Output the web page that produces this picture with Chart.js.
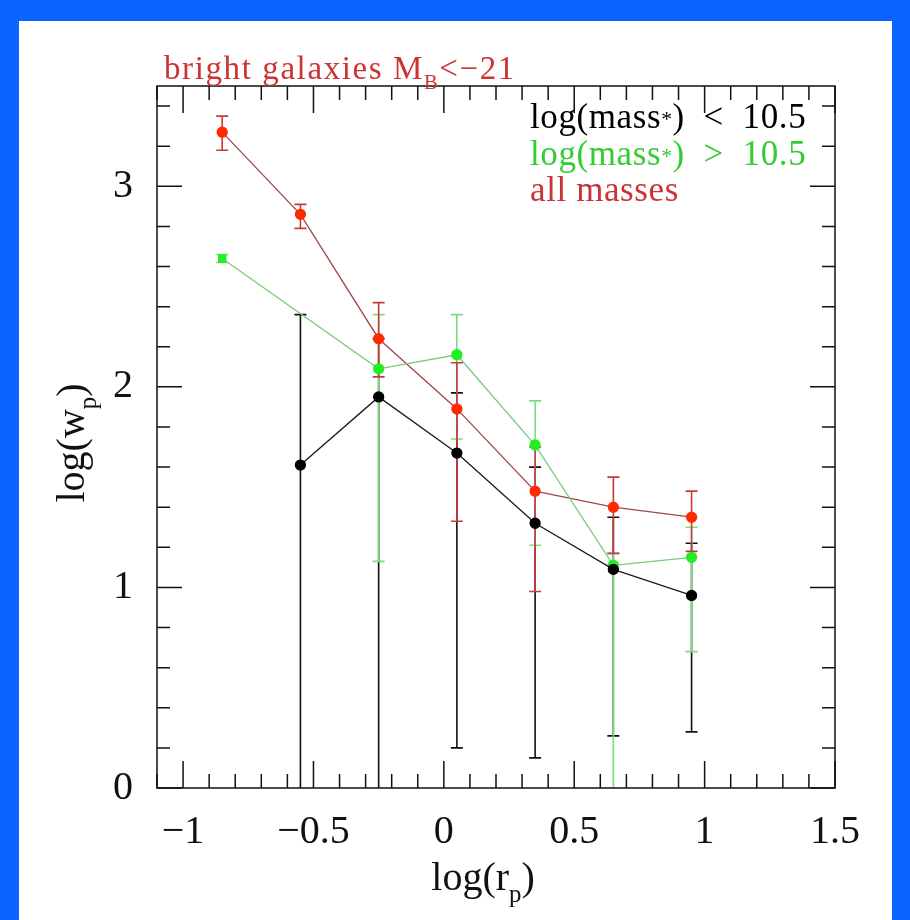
<!DOCTYPE html>
<html>
<head>
<meta charset="utf-8">
<script src="https://cdn.jsdelivr.net/npm/chart.js@4"></script>
<style>
html,body{margin:0;padding:0;background:#0a64ff;}
#wrap{position:absolute;left:0;top:0;width:910px;height:920px;}
</style>
</head>
<body>
<div id="wrap"><canvas id="c" width="910" height="920"></canvas></div>
<script>
// ---- data ----
const xs = [-0.85, -0.55, -0.25, 0.05, 0.35, 0.65, 0.95];
const lowMass   = [null, 1.61, 1.95, 1.67, 1.32, 1.09, 0.96];
const lowMassHi = [null, 2.36, 2.24, 1.97, 1.60, 1.35, 1.22];
const lowMassLo = [null, -0.5, -0.5, 0.20, 0.15, 0.26, 0.28];
const highMass   = [2.64, null, 2.09, 2.16, 1.71, 1.11, 1.15];
const highMassHi = [2.66, null, 2.36, 2.36, 1.93, 1.17, 1.30];
const highMassLo = [2.62, null, 1.13, 1.74, 1.21, -0.5, 0.68];
const allMass   = [3.27, 2.86, 2.24, 1.89, 1.48, 1.40, 1.35];
const allMassHi = [3.35, 2.91, 2.42, 2.12, 1.70, 1.55, 1.48];
const allMassLo = [3.18, 2.79, 2.05, 1.33, 0.98, 1.17, 1.18];
const xTicks = [-1, -0.5, 0, 0.5, 1, 1.5];
const yTicks = [0, 1, 2, 3];
const titleText = ["bright galaxies M", "B", "<\u221221"];
const legendLabels = ["log(mass", "*", ")  <  10.5", "log(mass", "*", ")  >  10.5", "all masses"];

const FONT = '"Liberation Serif", "DejaVu Serif", serif';

function pts(vals, lo, hi) {
  const out = [];
  vals.forEach((v, i) => { if (v !== null) out.push({x: xs[i], y: v, lo: lo[i], hi: hi[i]}); });
  return out;
}

const sets = [
  {label: 'low', data: pts(lowMass, lowMassLo, lowMassHi), borderColor: '#1a1a1a', pointBackgroundColor: '#000', errColor: '#111', pointStyle: 'circle'},
  {label: 'high', data: pts(highMass, highMassLo, highMassHi), borderColor: '#7acb7a', pointBackgroundColor: '#22ee22', errColor: '#7cdc7c', pointStyle: ['rect','circle','circle','circle','circle','circle']},
  {label: 'all', data: pts(allMass, allMassLo, allMassHi), borderColor: '#a24848', pointBackgroundColor: '#ff2a00', errColor: '#c83a3a', pointStyle: 'circle'}
];

function drawRich(ctx, segs, x, y, size, color, spacing) {
  ctx.fillStyle = color;
  ctx.textBaseline = 'alphabetic';
  ctx.textAlign = 'left';
  ctx.letterSpacing = (spacing || 0) + 'px';
  let cx = x;
  segs.forEach(s => {
    const fs = s.sub ? size * 0.62 : size;
    ctx.font = fs + 'px ' + FONT;
    ctx.fillText(s.t, cx, y + (s.sub ? size * (s.dy || 0.22) : 0));
    cx += ctx.measureText(s.t).width;
  });
  ctx.letterSpacing = '0px';
  return cx - x;
}
function richWidth(ctx, segs, size) {
  let w = 0;
  segs.forEach(s => { ctx.font = (s.sub ? size * 0.62 : size) + 'px ' + FONT; w += ctx.measureText(s.t).width; });
  return w;
}

const decor = {
  id: 'decor',
  beforeDraw(chart) {
    const ctx = chart.ctx;
    ctx.save();
    ctx.fillStyle = '#0a64ff';
    ctx.fillRect(0, 0, 910, 920);
    ctx.fillStyle = '#ffffff';
    ctx.fillRect(19, 21, 873, 899);
    ctx.restore();
  },
  beforeDatasetsDraw(chart) {
    const ctx = chart.ctx, xs_ = chart.scales.x, ys_ = chart.scales.y, a = chart.chartArea;
    ctx.save();
    ctx.beginPath();
    ctx.rect(a.left, a.top, a.right - a.left, a.bottom - a.top);
    ctx.clip();
    chart.data.datasets.forEach(ds => {
      ctx.strokeStyle = ds.errColor;
      ctx.lineWidth = 1.6;
      ds.data.forEach(p => {
        const px = xs_.getPixelForValue(p.x);
        const yl = ys_.getPixelForValue(p.lo), yh = ys_.getPixelForValue(p.hi);
        ctx.beginPath();
        ctx.moveTo(px, yl); ctx.lineTo(px, yh);
        ctx.moveTo(px - 6, yh); ctx.lineTo(px + 6, yh);
        ctx.moveTo(px - 6, yl); ctx.lineTo(px + 6, yl);
        ctx.stroke();
      });
    });
    ctx.restore();
  },
  afterDraw(chart) {
    const ctx = chart.ctx, sx = chart.scales.x, sy = chart.scales.y, a = chart.chartArea;
    ctx.save();
    ctx.strokeStyle = '#111';
    ctx.lineWidth = 1.5;
    ctx.strokeRect(a.left, a.top, a.right - a.left, a.bottom - a.top);
    ctx.beginPath();
    for (let k = -11; k <= 15; k++) {
      const px = sx.getPixelForValue(k / 10);
      const L = (k % 5 === 0) ? 27 : 14;
      ctx.moveTo(px, a.bottom); ctx.lineTo(px, a.bottom - L);
      ctx.moveTo(px, a.top); ctx.lineTo(px, a.top + L);
    }
    for (let k = 0; k <= 17; k++) {
      const py = sy.getPixelForValue(k / 5);
      const L = (k % 5 === 0) ? 25 : 13;
      ctx.moveTo(a.left, py); ctx.lineTo(a.left + L, py);
      ctx.moveTo(a.right, py); ctx.lineTo(a.right - L, py);
    }
    ctx.stroke();

    // title
    drawRich(ctx, [{t: titleText[0]}, {t: titleText[1], sub: true, dy: 0.3}, {t: titleText[2]}], 164, 79, 33, '#cc3333', 1.6);
    // legend
    drawRich(ctx, [{t: legendLabels[0]}, {t: legendLabels[1], sub: true, dy: -0.05}, {t: legendLabels[2]}], 530, 128, 35, '#000', 0.6);
    drawRich(ctx, [{t: legendLabels[3]}, {t: legendLabels[4], sub: true, dy: -0.05}, {t: legendLabels[5]}], 530, 165, 35, '#33cc33', 0.6);
    drawRich(ctx, [{t: legendLabels[6]}], 530, 201, 35, '#cc3333', 0.6);

    // axis titles
    const xt = [{t: 'log(r'}, {t: 'p', sub: true, dy: 0.3}, {t: ')'}];
    const wx = richWidth(ctx, xt, 40);
    drawRich(ctx, xt, 483 - wx / 2, 890, 40, '#111');
    const yt = [{t: 'log(w'}, {t: 'p', sub: true, dy: 0.3}, {t: ')'}];
    const wy = richWidth(ctx, yt, 40);
    ctx.translate(84, 443);
    ctx.rotate(-Math.PI / 2);
    drawRich(ctx, yt, -wy / 2, 0, 40, '#111');
    ctx.restore();
  }
};

new Chart(document.getElementById('c'), {
  type: 'line',
  data: {
    datasets: sets.map(s => ({
      label: s.label, data: s.data, borderColor: s.borderColor, borderWidth: 1.3,
      pointBackgroundColor: s.pointBackgroundColor, pointBorderColor: s.pointBackgroundColor,
      pointRadius: 5, pointStyle: s.pointStyle, errColor: s.errColor, tension: 0, fill: false
    }))
  },
  options: {
    responsive: false, animation: false, devicePixelRatio: 1,
    layout: {padding: {left: 0, top: 86, right: 75, bottom: 0}},
    plugins: {legend: {display: false}, tooltip: {enabled: false}},
    scales: {
      x: {
        type: 'linear', min: -1.1, max: 1.5,
        grid: {display: false}, border: {display: false},
        afterBuildTicks: sc => { sc.ticks = xTicks.map(v => ({value: v})); },
        afterFit: sc => { sc.height = 132; },
        ticks: {
          padding: 12, color: '#111', font: {family: FONT, size: 40},
          callback: v => (v < 0 ? '\u2212' + Math.abs(v) : String(v)), maxRotation: 0, autoSkip: false
        }
      },
      y: {
        type: 'linear', min: 0, max: 3.5,
        grid: {display: false}, border: {display: false},
        afterBuildTicks: sc => { sc.ticks = yTicks.map(v => ({value: v})); },
        afterFit: sc => { sc.width = 157; },
        ticks: {padding: 16, color: '#111', font: {family: FONT, size: 40}, callback: v => String(v)}
      }
    }
  },
  plugins: [decor]
});
</script>
</body>
</html>
